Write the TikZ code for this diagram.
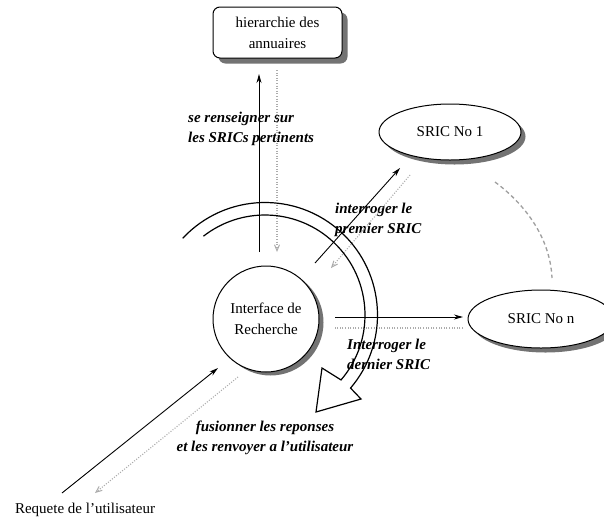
\documentclass[tikz,border=0pt]{standalone}
\usepackage{fontspec}
\setmainfont{Liberation Serif}
\usetikzlibrary{arrows.meta,calc,shapes.geometric}
\begin{document}
\begin{tikzpicture}[x=1pt,y=-1pt,
  every node/.style={font=\fontsize{15}{21}\selectfont},
  shadowc/.style={fill=black!55},
  framed/.style={draw=black, line width=1pt, fill=white},
  dirbox/.style={framed, rectangle, rounded corners=7pt, minimum width=129pt, minimum height=51pt, align=center, inner sep=0pt},
  circbox/.style={framed, circle, minimum size=106pt, inner sep=0pt, align=center},
  ellbox/.style={framed, ellipse, minimum width=142pt, minimum height=56pt, inner sep=0pt},
  lbl/.style={font=\fontsize{15}{20}\selectfont\bfseries\itshape, align=left, inner sep=0pt},
  solidarr/.style={line width=0.9pt, -{Stealth[length=9pt,width=5pt]}},
  dotline/.style={draw=gray!65, line width=1.1pt, dash pattern=on 1pt off 1.6pt},
  dotarr/.style={dotline, -{Straight Barb[length=6pt,width=5pt,line width=1pt]}},
  bigarrow/.style={line width=1.2pt, line join=miter},
  linkdash/.style={draw=gray!75, line width=1.3pt, dash pattern=on 4pt off 3pt}
]
\useasboundingbox (0,0) rectangle (604,520);
\fill[white] (0,0) rectangle (604,520);
\clip (0,0) rectangle (604,520);

% node centres
\coordinate (pdir) at (277.5,32.5);
\coordinate (pir) at (266,319);
\coordinate (ps1) at (450,132);
\coordinate (psn) at (541,319);

% shadows
\fill[shadowc, rounded corners=7pt] ($(pdir)+(-59,-20)$) rectangle ($(pdir)+(70,31)$);
\fill[shadowc] ($(pir)+(4.5,3.5)$) circle[radius=53];
\fill[shadowc] ($(ps1)+(4.5,4.5)$) ellipse[x radius=71, y radius=28];
\fill[shadowc] ($(psn)+(4.5,4.5)$) ellipse[x radius=73, y radius=29];

% nodes
\node[dirbox] (dir) at (pdir) {hierarchie des\\annuaires};
\node[circbox] (ir) at (pir) {Interface de\\Recherche};
\node[ellbox] (s1) at (ps1) {SRIC No 1};
\node[ellbox, minimum width=146pt, minimum height=58pt] (sn) at (psn) {SRIC No n};
\node[inner sep=0pt] (req) at (85,510) {Requete de l'utilisateur};

% labels
\node[lbl, anchor=west] (l1) at (188,129) {se renseigner sur\\les SRICs pertinents};
\node[lbl, anchor=west] (l2) at (335,220) {interroger le\\premier SRIC};
\node[lbl, anchor=west] (l3) at (347,354) {Interroger le\\dernier SRIC};
\node[lbl, align=center] (l4) at (265,437.5) {fusionner les reponses\\et les renvoyer a l'utilisateur};

% connector end points
\coordinate (a1s) at (259,252); \coordinate (a1e) at (259,74);
\coordinate (a2s) at (277,70);  \coordinate (a2e) at (277,252);
\coordinate (a3s) at (315,263); \coordinate (a3e) at (400,168);
\coordinate (a4s) at (410,175); \coordinate (a4e) at (331,268);
\coordinate (a5s) at (335,317); \coordinate (a5e) at (463,317);
\coordinate (a6s) at (463,328); \coordinate (a6e) at (335,328);
\coordinate (a7s) at (62,493);  \coordinate (a7e) at (218,368);
\coordinate (a8s) at (238,377); \coordinate (a8e) at (95,493);
\coordinate (d1) at (495,182);  \coordinate (d2) at (552,278);

% connectors
\draw[solidarr] (a1s) -- (a1e);
\draw[dotarr] (a2s) -- (a2e);
\draw[solidarr] (a3s) -- (a3e);
\draw[dotarr] (a4s) -- (a4e);
\draw[solidarr] (a5s) -- (a5e);
\draw[dotline] (a6s) -- (a6e);
\draw[solidarr] (a7s) -- (a7e);
\draw[dotarr] (a8s) -- (a8e);
\draw[linkdash] (d1) .. controls (522,202) and (550,235) .. (d2);

% big curved arrow
\coordinate (ac) at (265,315);
\coordinate (rb) at (361,399);
\coordinate (tip) at (316,412);
\coordinate (lb) at (322,368);
\draw[bigarrow] ($(ac)+(-137:112.5)$) arc[start angle=-137, end angle=40.5, radius=112.5]
  -- (rb) -- (tip) -- (lb) -- ($(ac)+(40.5:100)$)
  arc[start angle=40.5, end angle=-128, radius=100];
\end{tikzpicture}
\end{document}
